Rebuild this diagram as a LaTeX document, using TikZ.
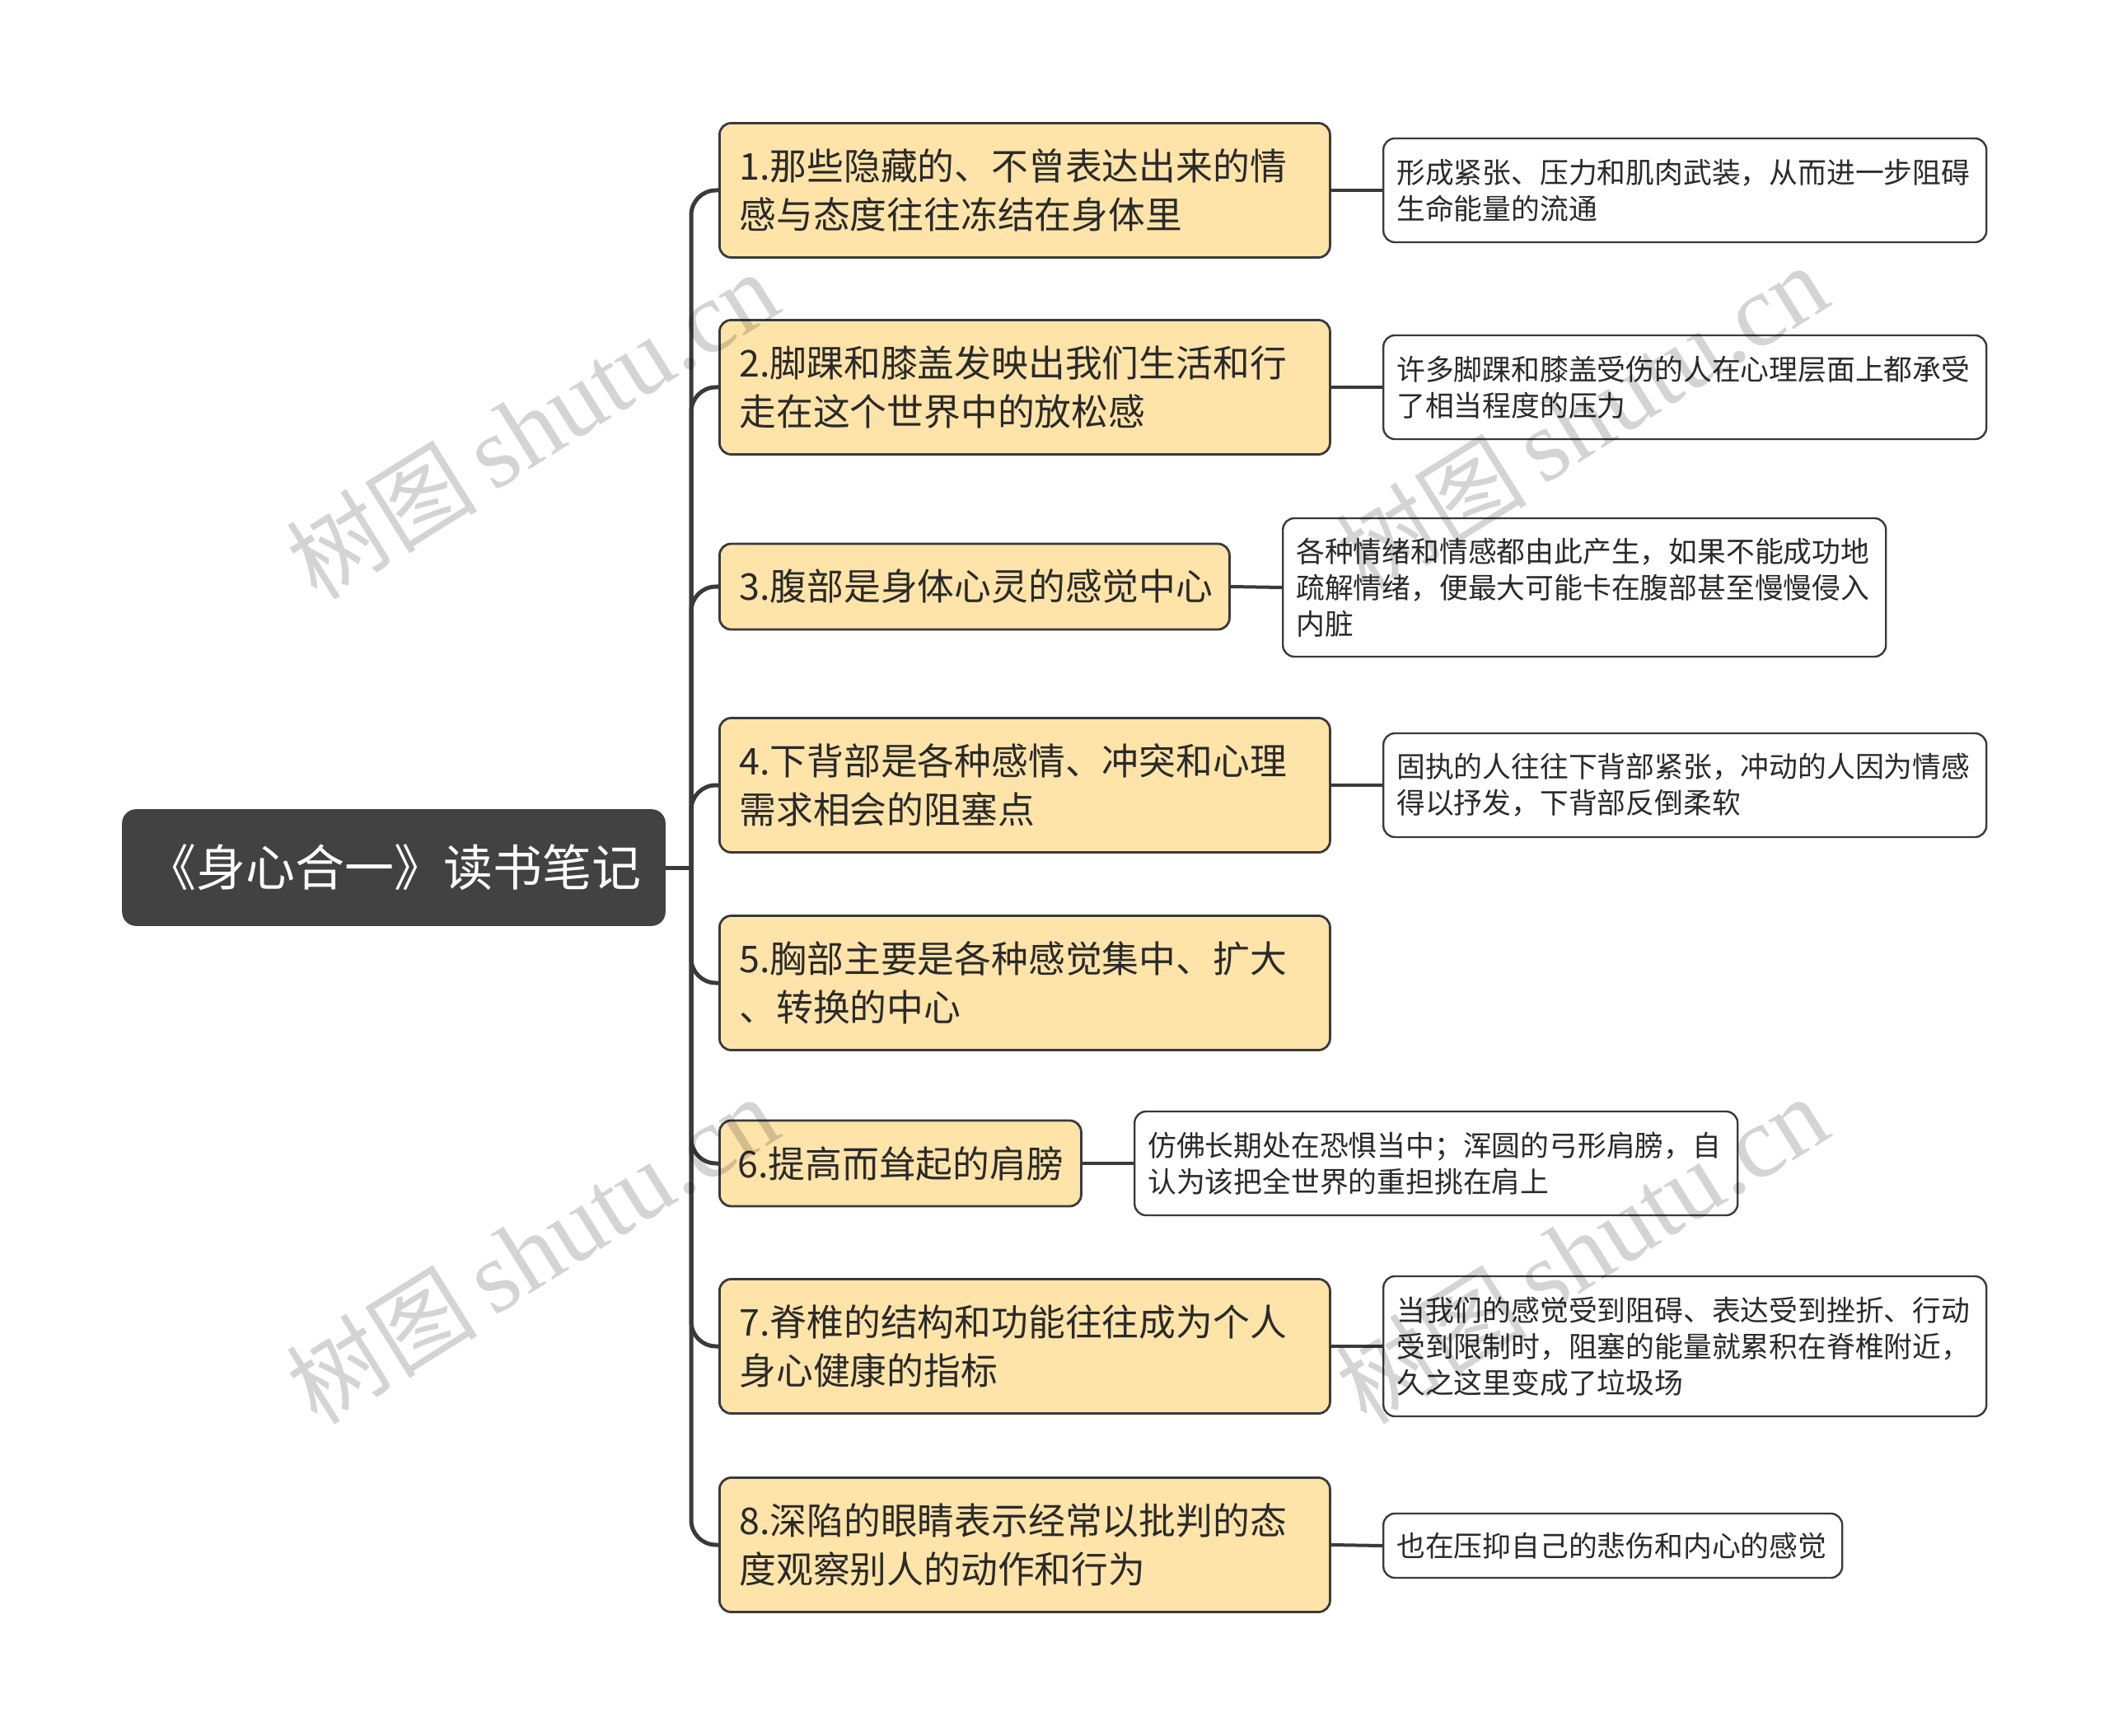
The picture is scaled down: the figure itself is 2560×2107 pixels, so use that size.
\documentclass[tikz,border=0pt]{standalone}
\usepackage{fontspec}
\setmainfont{Noto Sans CJK SC}
\newfontfamily\wmlatin{Liberation Serif}
\definecolor{rootfill}{HTML}{424242}
\definecolor{topicfill}{HTML}{FFE4AA}
\definecolor{linec}{HTML}{3A3A3A}
\definecolor{textc}{HTML}{2A2A2A}
\begin{document}
\begin{tikzpicture}[x=0.25pt,y=-0.25pt,
  rootbox/.style={fill=rootfill, draw=rootfill, rounded corners=4pt, text=white,
    font={\fontsize{15pt}{18pt}\selectfont}, minimum width=164.5pt, minimum height=35pt, inner sep=0pt},
  topic/.style={fill=topicfill, draw=linec, line width=0.7pt, rounded corners=3.5pt,
    font={\fontsize{11.2pt}{14.75pt}\selectfont}, text=textc, align=left,
    inner xsep=6pt, inner ysep=0pt, anchor=west, text width=173.25pt, minimum height=40.75pt},
  note/.style={fill=white, draw=linec, line width=0.6pt, rounded corners=3.5pt,
    font={\fontsize{8.7pt}{11pt}\selectfont}, text=textc, align=left,
    inner xsep=4pt, inner ysep=0pt, anchor=west, text width=175pt, minimum height=31.5pt},
  trunk/.style={draw=linec, line width=1.25pt, rounded corners=7.5pt},
  conn/.style={draw=linec, line width=1pt},
  wm/.style={text=black, text opacity=0.17, inner sep=0pt}
]
\useasboundingbox (0,0) rectangle (2560,2107);

% root
\node[rootbox] (root) at (478,1053) {《身心合一》读书笔记};

% level 1
\node[topic] (a1) at (872,231) {1.那些隐藏的、不曾表达出来的情\\感与态度往往冻结在身体里};
\node[topic] (a2) at (872,470) {2.脚踝和膝盖发映出我们生活和行\\走在这个世界中的放松感};
\node[topic, text width=142.75pt, minimum height=26pt] (a3) at (872,712) {3.腹部是身体心灵的感觉中心};
\node[topic] (a4) at (872,953) {4.下背部是各种感情、冲突和心理\\需求相会的阻塞点};
\node[topic] (a5) at (872,1193) {5.胸部主要是各种感觉集中、扩大\\、转换的中心};
\node[topic, text width=98.75pt, inner xsep=5.5pt, minimum height=26pt] (a6) at (872,1412) {6.提高而耸起的肩膀};
\node[topic] (a7) at (872,1634) {7.脊椎的结构和功能往往成为个人\\身心健康的指标};
\node[topic] (a8) at (872,1875) {8.深陷的眼睛表示经常以批判的态\\度观察别人的动作和行为};

% level 2
\node[note] (b1) at (1678,231) {形成紧张、压力和肌肉武装，从而进一步阻碍\\生命能量的流通};
\node[note] (b2) at (1678,470) {许多脚踝和膝盖受伤的人在心理层面上都承受\\了相当程度的压力};
\node[note, minimum height=42pt] (b3) at (1556,713) {各种情绪和情感都由此产生，如果不能成功地\\疏解情绪，便最大可能卡在腹部甚至慢慢侵入\\内脏};
\node[note] (b4) at (1678,953) {固执的人往往下背部紧张，冲动的人因为情感\\得以抒发，下背部反倒柔软};
\node[note] (b6) at (1376,1412) {仿佛长期处在恐惧当中；浑圆的弓形肩膀，自\\认为该把全世界的重担挑在肩上};
\node[note, minimum height=42.5pt] (b7) at (1678,1634) {当我们的感觉受到阻碍、表达受到挫折、行动\\受到限制时，阻塞的能量就累积在脊椎附近，\\久之这里变成了垃圾场};
\node[note, text width=131.25pt, minimum height=19.5pt] (b8) at (1678,1876) {也在压抑自己的悲伤和内心的感觉};

% connectors
\coordinate (hub) at (839,1053);
\draw[conn, line width=1.25pt] (root.east) -- (hub);
\foreach \i in {1,...,8} {
  \draw[trunk] (hub) |- (a\i.west);
}
\foreach \i in {1,2,3,4,6,7,8} {
  \draw[conn] (a\i.east) -- (b\i.west);
}

% watermarks
\foreach \n/\p in {w1/{(646,516)}, w2/{(1920,508)}, w3/{(646,1517)}, w4/{(1920,1517)}} {
  \node[wm, rotate=32] (\n) at \p {{\fontsize{29pt}{32pt}\selectfont 树图}\hspace{5pt}{\wmlatin\fontsize{31pt}{34pt}\selectfont shutu.cn}};
}
\end{tikzpicture}
\end{document}
